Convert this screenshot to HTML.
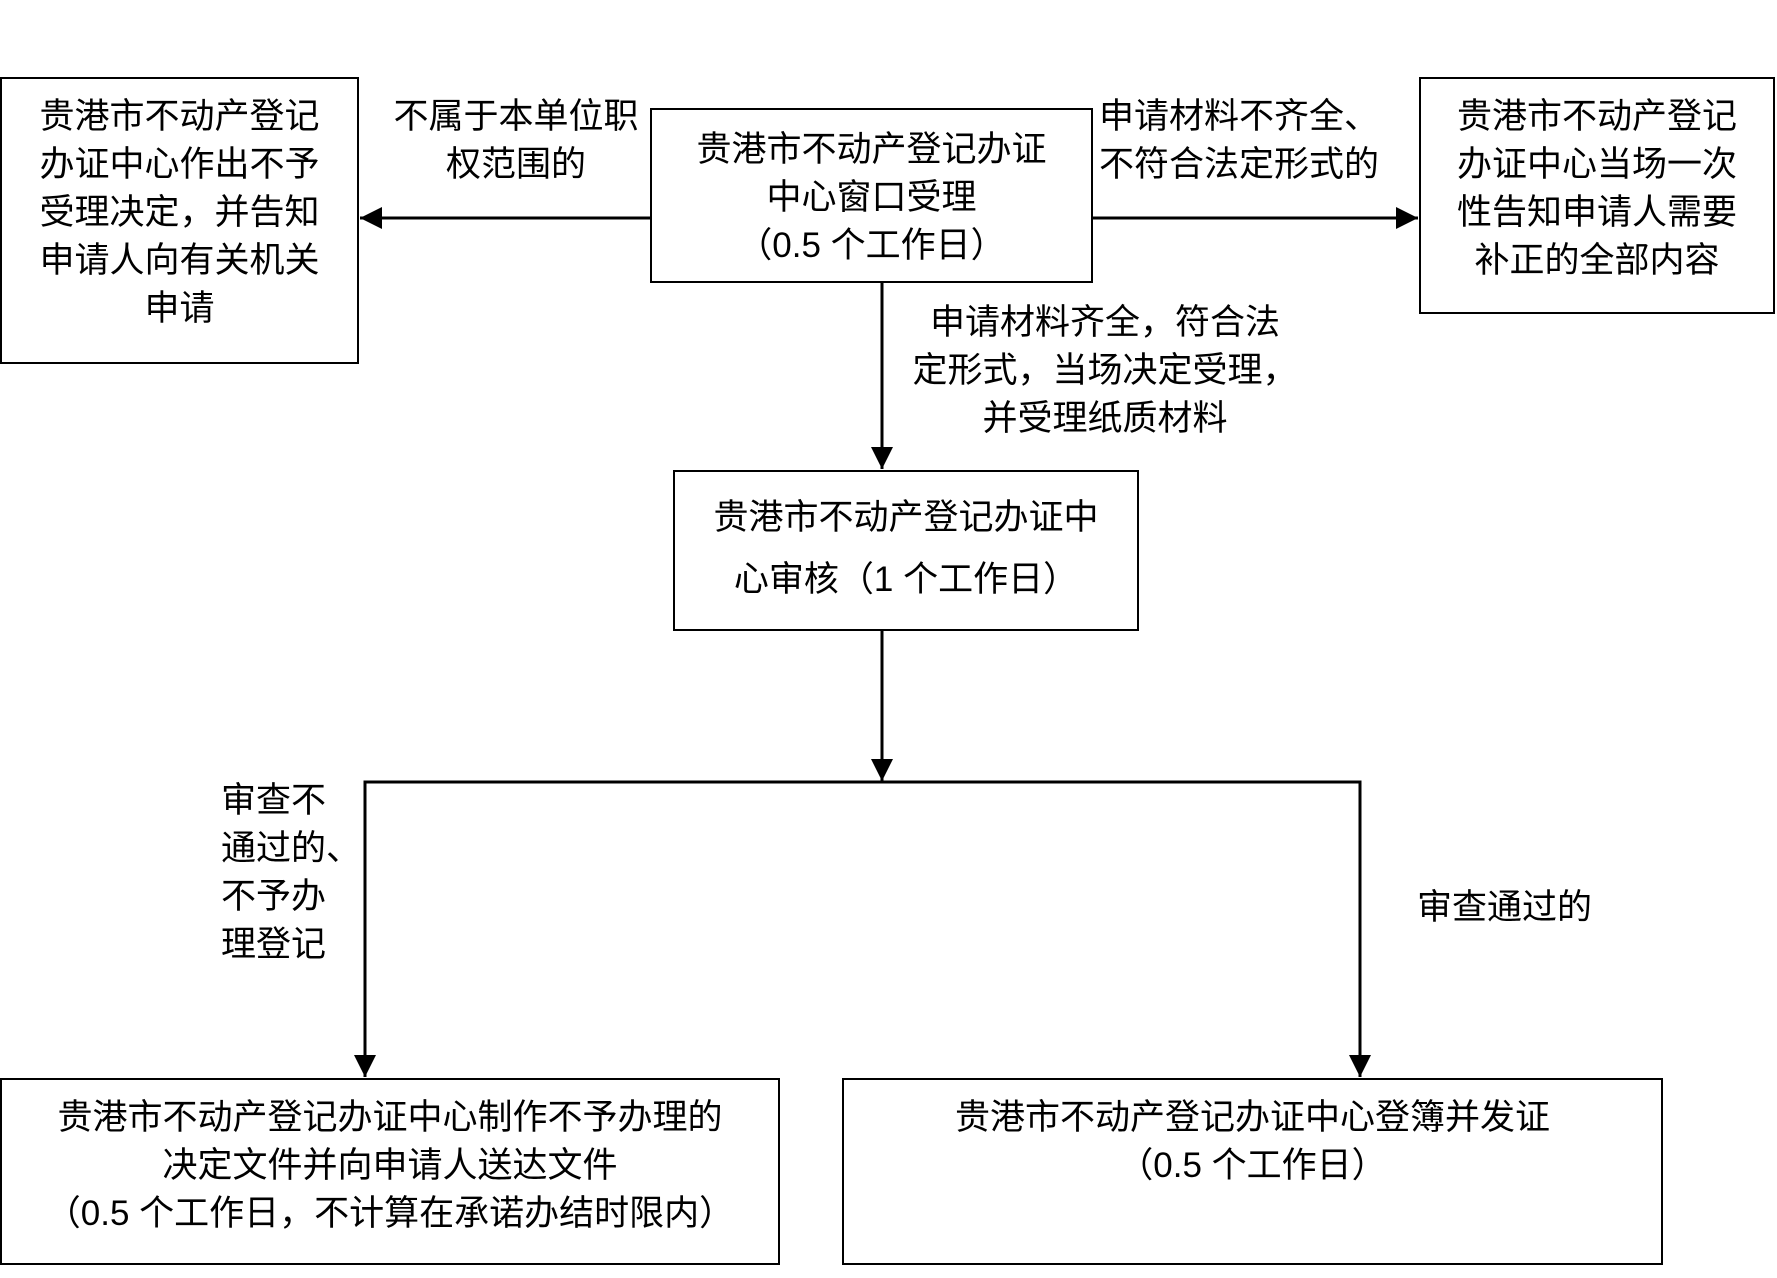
<!DOCTYPE html>
<html><head><meta charset="utf-8"><style>
body{margin:0;width:1777px;height:1278px;background:#fff;position:relative;overflow:hidden;font-family:"Liberation Sans","Noto Sans CJK SC",sans-serif;font-size:35px;color:#000}
.b{position:absolute;border:2px solid #000;box-sizing:border-box}
.t{position:absolute;line-height:48px;white-space:nowrap;text-align:center}
.l{position:absolute;line-height:48px;white-space:nowrap}
</style></head><body>
<svg width="1777" height="1278" style="position:absolute;left:0;top:0">
<defs>
<marker id="h" viewBox="0 0 10 10" markerWidth="22" markerHeight="22" refX="10" refY="5" orient="auto" markerUnits="userSpaceOnUse"><path d="M0,0 L10,5 L0,10z" fill="#000"/></marker></defs>
<g stroke="#000" stroke-width="3" fill="none">
<line x1="650" y1="218" x2="360" y2="218" marker-end="url(#h)"/>
<line x1="1091" y1="218" x2="1418" y2="218" marker-end="url(#h)"/>
<line x1="882" y1="282" x2="882" y2="469" marker-end="url(#h)"/>
<line x1="882" y1="630" x2="882" y2="781" marker-end="url(#h)"/>
<polyline points="365,800 365,782 1360,782 1360,800"/>
<line x1="365" y1="782" x2="365" y2="1077" marker-end="url(#h)"/>
<line x1="1360" y1="782" x2="1360" y2="1077" marker-end="url(#h)"/>
</g></svg>
<div class="b" style="left:0;top:77px;width:359px;height:287px"></div>
<div class="b" style="left:650px;top:108px;width:443px;height:175px"></div>
<div class="b" style="left:1419px;top:77px;width:356px;height:237px"></div>
<div class="b" style="left:673px;top:470px;width:466px;height:161px"></div>
<div class="b" style="left:0;top:1078px;width:780px;height:187px"></div>
<div class="b" style="left:842px;top:1078px;width:821px;height:187px"></div>

<div class="t" style="left:0;width:359px;top:93px">贵港市不动产登记<br>办证中心作出不予<br>受理决定，并告知<br>申请人向有关机关<br>申请</div>
<div class="t" style="left:650px;width:443px;top:126px">贵港市不动产登记办证<br>中心窗口受理<br>（0.5 个工作日）</div>
<div class="t" style="left:1419px;width:356px;top:93px">贵港市不动产登记<br>办证中心当场一次<br>性告知申请人需要<br>补正的全部内容</div>
<div class="t" style="left:673px;width:466px;top:487px;line-height:62px">贵港市不动产登记办证中<br>心审核（1 个工作日）</div>
<div class="t" style="left:0;width:780px;top:1094px">贵港市不动产登记办证中心制作不予办理的<br>决定文件并向申请人送达文件<br>（0.5 个工作日，不计算在承诺办结时限内）</div>
<div class="t" style="left:842px;width:821px;top:1094px">贵港市不动产登记办证中心登簿并发证<br>（0.5 个工作日）</div>

<div class="t" style="left:380px;width:272px;top:93px">不属于本单位职<br>权范围的</div>
<div class="l" style="left:1099px;top:93px">申请材料不齐全、<br>不符合法定形式的</div>
<div class="t" style="left:905px;width:400px;top:299px">申请材料齐全，符合法<br>定形式，当场决定受理，<br>并受理纸质材料</div>
<div class="l" style="left:221px;top:777px">审查不<br>通过的、<br>不予办<br>理登记</div>
<div class="l" style="left:1417px;top:884px">审查通过的</div>
</body></html>
